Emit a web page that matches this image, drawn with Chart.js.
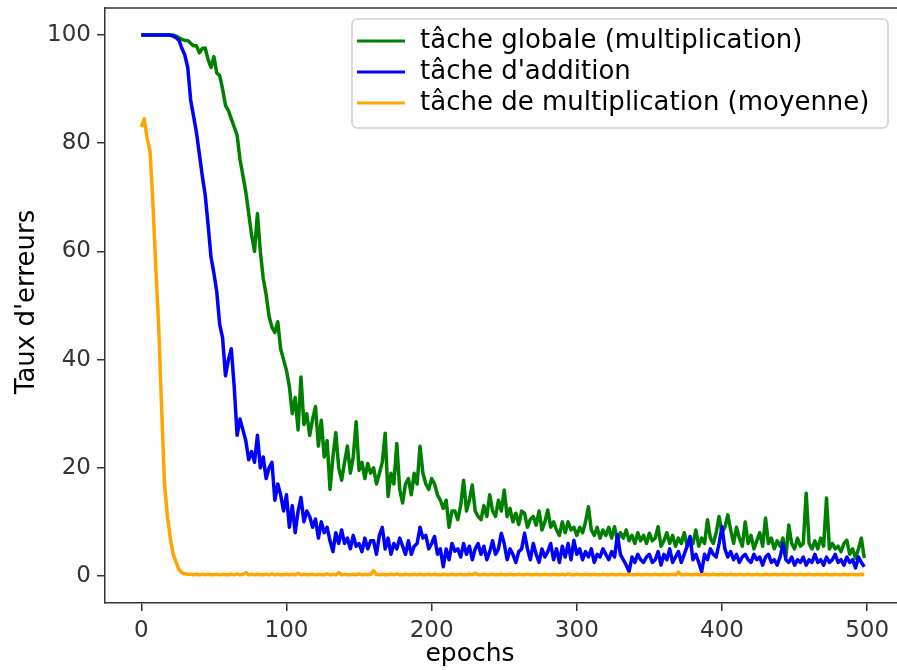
<!DOCTYPE html>
<html>
<head>
<meta charset="utf-8">
<script src="https://cdn.jsdelivr.net/npm/chart.js@4.4.1/dist/chart.umd.min.js"></script>
<style>
  html, body { margin: 0; padding: 0; background: #fff; overflow: hidden; }
  #wrap { width: 902px; height: 670px; }
</style>
</head>
<body>
<div id="wrap"><canvas id="errChart"></canvas></div>
<script>
// ===== data (one value every 2 epochs) =====
const labels = ["tâche globale (multiplication)", "tâche d'addition", "tâche de multiplication (moyenne)"];
const colors = ["#008000", "#0000ff", "#ffa500"];
const xTicks = [0, 100, 200, 300, 400, 500];
const yTicks = [0, 20, 40, 60, 80, 100];

const globale = [
  100, 100, 100, 100, 100, 100, 100, 100, 100, 100,
  100, 100, 99.8, 99.5, 99.2, 99, 99, 98.5, 98, 98,
  96.7, 97.5, 97.6, 95.5, 94, 96, 93, 92.5, 90, 87,
  86, 84.5, 83, 81.5, 77, 74, 71, 67, 63, 60,
  67, 60, 55, 52, 48, 46, 45, 47, 42, 40,
  38, 35, 30, 33, 27, 36.8, 28, 30, 26, 29,
  31.3, 24, 28.8, 22, 25, 16, 22, 26.5, 20, 17.7,
  21, 24, 19, 22, 28.5, 19.5, 21, 18, 20.8, 19,
  20, 17, 19, 21, 26.4, 14.7, 19, 17, 24.5, 16,
  13.5, 17, 18, 15, 19, 17, 24, 19, 17, 16,
  18, 17, 15, 14, 12.5, 14, 9, 12, 12, 10.4,
  13, 17.7, 12, 14, 16.8, 12, 11, 10.4, 13, 11,
  15, 12, 11, 14, 12, 15.9, 11, 12.5, 10, 11.6,
  9.5, 12, 11.6, 9, 10.5, 11, 9.4, 12, 8.5, 10,
  12.2, 9, 10, 8.5, 7.5, 10, 8, 10, 8.5, 9,
  7.5, 9, 8, 10, 12.8, 8.5, 7.5, 9, 7, 8.5,
  7.5, 9, 7, 9.1, 6.5, 8, 7, 8.5, 6.5, 7.5,
  6, 8, 6.5, 7.5, 6, 7.9, 6.5, 7, 9.1, 5.5,
  6.5, 8, 6, 7.5, 5.5, 7, 6, 8, 5.5, 7,
  6, 8.5, 5.5, 7, 6, 10.4, 7, 6, 8, 11,
  8, 9, 11.3, 8.5, 6, 9, 7, 5.5, 10, 6,
  7.5, 5, 6.5, 8, 5.5, 10.7, 6, 7, 5, 6.5,
  5.5, 7, 3.5, 9.4, 6, 5, 7, 5.5, 6, 15.3,
  6, 5, 6.5, 5, 7, 5.5, 14.4, 5, 6, 5,
  5.5, 4.5, 6, 6.6, 4, 5, 3.3, 5, 7, 3.3
];

const addition = [
  100, 100, 100, 100, 100, 100, 100, 100, 100, 100,
  100, 99.8, 99.5, 99, 97.5, 96.3, 94, 88, 85, 82,
  78, 74, 70.5, 65, 59, 56, 52.5, 46.5, 44, 37,
  40, 42, 35, 26, 29, 27, 25, 21.5, 23, 21,
  26, 20, 22, 18, 20, 21, 14, 17, 15, 12,
  15, 9, 13, 8, 12, 14.5, 10, 12, 11, 9,
  10.5, 7, 10, 8, 9, 6.5, 4.5, 8, 6, 8.5,
  6, 7, 5, 7.5, 5.5, 6, 4.5, 7, 5, 6.5,
  6.5, 4, 7.5, 9, 5, 7, 4, 6, 5, 7,
  5.5, 4, 6.5, 4, 5.5, 6, 9, 7, 7.5, 5,
  6, 7.3, 4, 5, 1.7, 5, 3, 6, 4.6, 5,
  3.5, 6, 4, 5.5, 3, 5, 6, 4, 5.5, 3,
  4.5, 6.5, 4, 5, 7.9, 6, 3, 5, 4, 2.5,
  4.5, 5, 7.9, 5, 3, 6, 4, 2.5, 5, 3.5,
  4.5, 6, 3, 5, 2.5, 5.5, 3.5, 6, 3, 6.6,
  4, 5, 3, 4.5, 3.5, 5, 2.5, 4, 3.5, 5,
  4, 3, 4.5, 3.5, 7.6, 4, 3, 2, 0.8, 3.5,
  2.5, 4, 3, 2.5, 3.5, 4, 2.5, 3, 4.5, 2,
  4, 3, 5, 2.5, 3.5, 4.5, 2.5, 4, 5.5, 7.3,
  3, 4, 2.5, 0.8, 4, 3, 5, 4, 3.5, 6,
  9.1, 5, 3.5, 4.5, 3, 4, 2.5, 3.5, 4, 3,
  2.5, 4, 3, 3.5, 2, 3.5, 4, 2.5, 3, 2,
  3.5, 6, 3, 2.5, 3.5, 2, 3, 2.5, 3.5, 2,
  3, 2.5, 4, 2.5, 3, 2, 3.5, 2.5, 3, 4,
  2.5, 3, 2, 3.5, 2.5, 3, 1.5, 3.5, 2.5, 1.7
];

const moyenne = [
  83, 84.5, 81, 78.5, 69, 57, 46, 31, 17, 11,
  7, 4, 2.5, 1.2, 0.6, 0.4, 0.3, 0.3, 0.2, 0.3,
  0.2, 0.3, 0.2, 0.3, 0.2, 0.2, 0.3, 0.2, 0.3, 0.2,
  0.2, 0.3, 0.2, 0.4, 0.2, 0.3, 0.6, 0.2, 0.3, 0.2,
  0.3, 0.2, 0.2, 0.3, 0.2, 0.4, 0.2, 0.3, 0.2, 0.2,
  0.3, 0.2, 0.3, 0.2, 0.5, 0.2, 0.3, 0.2, 0.2, 0.3,
  0.2, 0.3, 0.2, 0.2, 0.4, 0.2, 0.3, 0.2, 0.6, 0.2,
  0.3, 0.2, 0.2, 0.3, 0.2, 0.4, 0.2, 0.3, 0.2, 0.3,
  1.0, 0.3, 0.2, 0.3, 0.2, 0.2, 0.3, 0.2, 0.4, 0.2,
  0.2, 0.3, 0.2, 0.2, 0.3, 0.2, 0.3, 0.2, 0.2, 0.3,
  0.2, 0.3, 0.2, 0.2, 0.3, 0.2, 0.2, 0.3, 0.2, 0.2,
  0.3, 0.2, 0.2, 0.3, 0.2, 0.5, 0.2, 0.2, 0.3, 0.2,
  0.2, 0.3, 0.2, 0.2, 0.3, 0.2, 0.2, 0.3, 0.2, 0.2,
  0.3, 0.2, 0.2, 0.3, 0.2, 0.2, 0.3, 0.2, 0.2, 0.3,
  0.2, 0.2, 0.3, 0.2, 0.2, 0.3, 0.2, 0.4, 0.2, 0.2,
  0.3, 0.2, 0.2, 0.3, 0.2, 0.2, 0.3, 0.2, 0.2, 0.3,
  0.2, 0.2, 0.3, 0.2, 0.2, 0.3, 0.2, 0.2, 0.3, 0.2,
  0.2, 0.3, 0.2, 0.2, 0.3, 0.2, 0.2, 0.3, 0.2, 0.2,
  0.3, 0.2, 0.2, 0.3, 0.2, 0.7, 0.2, 0.2, 0.3, 0.2,
  0.2, 0.3, 0.2, 0.2, 0.3, 0.2, 0.2, 0.3, 0.2, 0.2,
  0.3, 0.2, 0.2, 0.3, 0.2, 0.2, 0.3, 0.2, 0.2, 0.3,
  0.2, 0.2, 0.3, 0.2, 0.2, 0.3, 0.2, 0.2, 0.3, 0.2,
  0.2, 0.3, 0.2, 0.2, 0.3, 0.2, 0.2, 0.3, 0.2, 0.2,
  0.3, 0.2, 0.2, 0.3, 0.2, 0.2, 0.3, 0.2, 0.2, 0.3,
  0.2, 0.2, 0.3, 0.2, 0.2, 0.3, 0.2, 0.2, 0.3, 0.2
];

// epoch index of each sample (0, 2, 4 ... 498)
const epochs = globale.map((v, i) => i * 2);

const font = "'DejaVu Sans', sans-serif";
const axisColor = '#333';

function toPoints(values) {
  return values.map((v, i) => ({ x: epochs[i], y: v }));
}

//top spine, axis titles and the boxed legend in the top right
const decor = {
  id: 'decor',
  afterDraw(chart) {
    const ctx = chart.ctx;
    const area = chart.chartArea;
    ctx.save();
    ctx.strokeStyle = axisColor;
    ctx.lineWidth = 1.5;
    ctx.beginPath();
    ctx.moveTo(area.left, area.top);
    ctx.lineTo(area.right, area.top);
    ctx.stroke();

    ctx.fillStyle = '#000';
    ctx.font = '25px ' + font;
    ctx.textAlign = 'center';
    ctx.textBaseline = 'middle';
    ctx.fillText('epochs', 470, 654);
    ctx.font = '26px ' + font;
    ctx.translate(27, 302);
    ctx.rotate(-Math.PI / 2);
    ctx.fillText("Taux d'erreurs", 0, 0);
    ctx.restore();

    // legend
    ctx.save();
    ctx.fillStyle = 'rgba(255,255,255,0.85)';
    ctx.strokeStyle = '#d0d0d0';
    ctx.lineWidth = 1.5;
    ctx.beginPath();
    ctx.roundRect(352, 19, 536, 109, 5);
    ctx.fill();
    ctx.stroke();
    ctx.font = '26px ' + font;
    ctx.textAlign = 'left';
    ctx.textBaseline = 'middle';
    chart.data.datasets.forEach((ds, i) => {
      const y = 41 + i * 31;
      ctx.strokeStyle = ds.borderColor;
      ctx.lineWidth = 3;
      ctx.beginPath();
      ctx.moveTo(357, y);
      ctx.lineTo(405, y);
      ctx.stroke();
      ctx.fillStyle = '#000';
      ctx.fillText(ds.label, 420, y);
    });
    ctx.restore();
  }
};

const series = [globale, addition, moyenne];

new Chart(document.getElementById('errChart'), {
  type: 'line',
  data: {
    datasets: series.map((vals, i) => ({
      label: labels[i],
      data: toPoints(vals),
      borderColor: colors[i],
      backgroundColor: colors[i],
      borderWidth: 3.5,
      borderJoinStyle: 'round',
      pointRadius: 0,
      tension: 0,
      order: 3 - i
    }))
  },
  options: {
    responsive: true,
    maintainAspectRatio: false,
    animation: false,
    devicePixelRatio: 1,
    layout: { padding: { top: 8, left: 0, right: 0, bottom: 0 } },
    plugins: {
      legend: { display: false },
      tooltip: { enabled: false }
    },
    scales: {
      x: {
        type: 'linear',
        min: -25,
        max: 524,
        afterFit(s) { s.height = 67; s.paddingLeft = 0; s.paddingRight = 0; },
        afterBuildTicks(s) { s.ticks = xTicks.map(v => ({ value: v })); },
        ticks: { font: { family: font, size: 23 }, color: axisColor, padding: 6, maxRotation: 0 },
        grid: { drawOnChartArea: false, tickLength: 8, color: axisColor, lineWidth: 1.5 },
        border: { color: axisColor, width: 1.5 }
      },
      y: {
        min: -5,
        max: 105,
        afterFit(s) { s.width = 105; s.paddingTop = 0; s.paddingBottom = 0; },
        afterBuildTicks(s) { s.ticks = yTicks.map(v => ({ value: v })); },
        ticks: { font: { family: font, size: 23 }, color: axisColor, padding: 6 },
        grid: { drawOnChartArea: false, tickLength: 8, color: axisColor, lineWidth: 1.5 },
        border: { color: axisColor, width: 1.5 }
      }
    }
  },
  plugins: [decor]
});
</script>
</body>
</html>
